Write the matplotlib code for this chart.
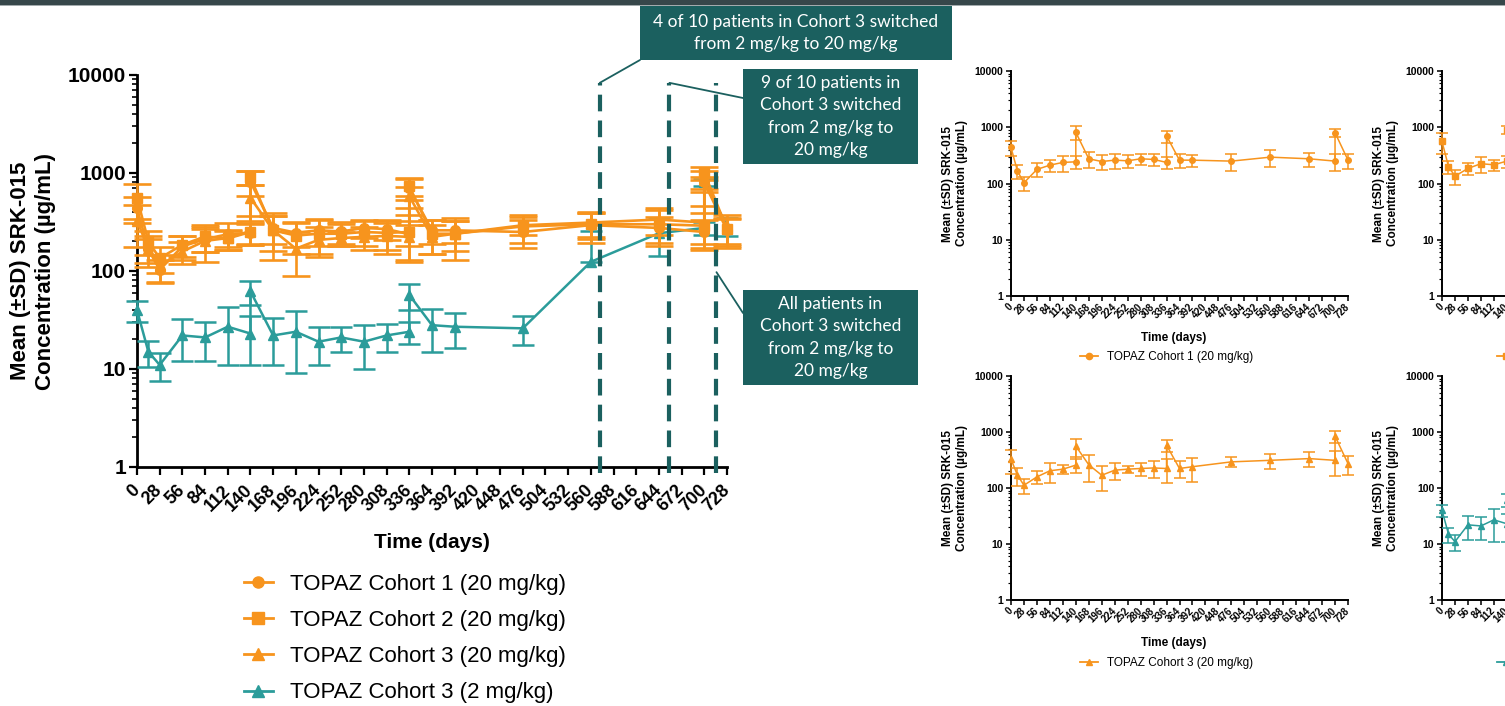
import matplotlib
matplotlib.use('Agg')
import matplotlib.pyplot as plt
import matplotlib.transforms as mtransforms
import numpy as np
from matplotlib.lines import Line2D
from matplotlib.patches import Rectangle, ConnectionPatch
from matplotlib.ticker import LogLocator, NullFormatter

plt.rcParams['font.family'] = ['Liberation Sans', 'DejaVu Sans']

# Dữ liệu (ngày, trung bình, SD)
days = [0, 14, 28, 56, 84, 112, 140, 140, 168, 196, 224, 252, 280, 308,
        336, 336, 364, 392, 476, 560, 644, 700, 700, 728]

c1_mean = [437, 166, 103, 178, 212, 237, 243, 812, 275, 246, 260, 253, 275, 268,
           237, 700, 260, 260, 250, 294, 275, 250, 800, 260]
c1_sd = [130, 45, 28, 50, 55, 75, 60, 230, 85, 70, 80, 65, 60, 60,
         55, 170, 70, 65, 80, 100, 80, 80, 120, 80]

c2_mean = [560, 200, 135, 185, 225, 215, 250, 900, 260, 230, 240, 240, 250, 245,
           250, 730, 240, 240, 285, 300, 300, 290, 1000, 270]
c2_sd = [220, 55, 40, 45, 70, 50, 60, 150, 100, 80, 90, 60, 70, 80,
         120, 150, 90, 80, 90, 90, 120, 100, 150, 80]

c3_mean = [327, 169, 112, 158, 203, 217, 256, 560, 260, 169, 208, 217, 223, 228,
           223, 580, 223, 240, 293, 312, 335, 312, 840, 273]
c3_sd = [150, 60, 35, 40, 80, 40, 70, 200, 130, 80, 70, 35, 60, 80,
         100, 140, 75, 110, 60, 90, 100, 150, 200, 100]

c3_low_mean = [40, 15, 11, 22, 21, 27, 23, 62, 22, 24, 19, 21, 19, 22,
               24, 57, 28, 27, 26, 124, 243, 275, 800, 290]
c3_low_sd = [10, 4.5, 3.5, 10, 9, 16, 12, 17, 11, 15, 8, 6, 9, 7,
             6, 17, 13, 10.6, 8.5, 130, 100, 40, 60, 60]

labels = ['TOPAZ Cohort 1 (20 mg/kg)', 'TOPAZ Cohort 2 (20 mg/kg)',
          'TOPAZ Cohort 3 (20 mg/kg)', 'TOPAZ Cohort 3 (2 mg/kg)']

switch_days = [571, 657, 715]
notes = ['4 of 10 patients in Cohort 3 switched\nfrom 2 mg/kg to 20 mg/kg',
         '9 of 10 patients in\nCohort 3 switched\nfrom 2 mg/kg to\n20 mg/kg',
         'All patients in\nCohort 3 switched\nfrom 2 mg/kg to\n20 mg/kg']

x_ticks = list(range(0, 729, 28))
y_ticks = [1, 10, 100, 1000, 10000]

ORANGE = '#F7941D'
TEAL = '#2B9C9A'
DARK = '#1B605F'

W, H = 1505, 706


def px_rect(l, t, r, b):
    return [l / W, 1 - b / H, (r - l) / W, (b - t) / H]


def fx(x):
    return x / W


def fy(y):
    return 1 - y / H


def style_axes(ax, spine_w, tlen, tick_fs, xtick_fs, xpad):
    ax.set_yscale('log')
    ax.set_ylim(1, 10000)
    ax.set_xlim(0, 728)
    ax.patch.set_alpha(0)
    for s in ['top', 'right']:
        ax.spines[s].set_visible(False)
    for s in ['left', 'bottom']:
        ax.spines[s].set_linewidth(spine_w)
    ax.set_xticks(x_ticks)
    ax.set_xticklabels([str(t) for t in x_ticks], rotation=45, ha='right', va='center',
                       rotation_mode='anchor', fontweight='bold', fontsize=xtick_fs)
    ax.set_yticks(y_ticks)
    ax.set_yticklabels([str(t) for t in y_ticks], fontweight='bold', fontsize=tick_fs)
    ax.yaxis.set_minor_locator(LogLocator(base=10, subs=range(2, 10)))
    ax.yaxis.set_minor_formatter(NullFormatter())
    ax.tick_params(which='major', length=tlen, width=spine_w * 0.8, pad=2)
    ax.tick_params(which='minor', length=tlen * 0.55, width=spine_w * 0.6)
    ax.tick_params(axis='x', pad=xpad)


def draw_series(ax, mean, sd, color, marker, ms, lw, cap, z):
    mean = np.array(mean, float)
    sd = np.array(sd, float)
    lower = np.where(sd < mean, sd, 0)
    ax.errorbar(days, mean, yerr=[lower, sd], color=color, marker=marker, ms=ms,
                lw=lw, elinewidth=lw, capsize=cap, capthick=lw, zorder=z, clip_on=False)


series = [
    (c1_mean, c1_sd, ORANGE, 'o'),
    (c2_mean, c2_sd, ORANGE, 's'),
    (c3_mean, c3_sd, ORANGE, '^'),
    (c3_low_mean, c3_low_sd, TEAL, '^'),
]

fig = plt.figure(figsize=(W / 100, H / 100), dpi=100)
fig.patch.set_facecolor('white')

# thanh tiêu đề phía trên
fig.add_artist(Rectangle((0, fy(5)), 1, 5 / H, transform=fig.transFigure,
                         color='#37474A', lw=0))
fig.add_artist(Rectangle((0, fy(6)), 1, 1 / H, transform=fig.transFigure,
                         color='#A3ABAD', lw=0))

# Biểu đồ chính
ax = fig.add_axes(px_rect(137, 75, 727, 467))
style_axes(ax, 2.0, 6, 15, 13, 9)
draw_series(ax, c3_low_mean, c3_low_sd, TEAL, '^', 7, 1.8, 8, 3)
for i in range(3):
    m, s, c, mk = series[i]
    draw_series(ax, m, s, c, mk, 7, 1.9, 10, 4 + i)

blend = mtransforms.blended_transform_factory(ax.transData, ax.transAxes)
for d in switch_days:
    ax.plot([d, d], [-0.015, 0.98], transform=blend, color=DARK, lw=3,
            linestyle=(0, (4, 2.2)), clip_on=False, zorder=8)

fig.text(fx(33), fy(271), 'Mean (±SD) SRK-015\nConcentration (µg/mL)', rotation=90,
         ha='center', va='center', multialignment='center', fontsize=16, fontweight='bold')
fig.text(fx(432), fy(543), 'Time (days)', ha='center', va='center',
         fontsize=15, fontweight='bold')

handles = [Line2D([], [], color=c, marker=mk, ms=8, lw=2) for _, _, c, mk in series]
fig.legend(handles, labels, loc='upper left', bbox_to_anchor=(fx(244), fy(574)),
           frameon=False, fontsize=16, handlelength=1.3, handletextpad=0.75,
           labelspacing=0.68, borderpad=0, borderaxespad=0)

# hộp chú thích
boxes = [(640, 6, 952, 60), (743, 69, 918, 164), (743, 290, 918, 385)]
for (l, t, r, b), note in zip(boxes, notes):
    fig.add_artist(Rectangle((fx(l), fy(b)), (r - l) / W, (b - t) / H,
                             transform=fig.transFigure, color=DARK, lw=0))
    fig.text(fx((l + r) / 2), fy((t + b) / 2), note, ha='center', va='center',
             color='white', fontsize=12.5, family=['Lato', 'DejaVu Sans'], linespacing=1.5)

leaders = [(switch_days[0], 0.98, 640, 60),
           (switch_days[1], 0.98, 743, 98),
           (switch_days[2], 0.497, 743, 313)]
for d, yf, bx, by in leaders:
    fig.add_artist(ConnectionPatch(xyA=(d, yf), coordsA=blend,
                                   xyB=(fx(bx), fy(by)), coordsB=fig.transFigure,
                                   color=DARK, lw=1.3))

# Các biểu đồ nhỏ bên phải
small = [
    ((1011, 71, 1348, 296), 0, 338, (1080, 357)),
    ((1442, 71, 1779, 296), 1, 338, (1497, 357)),
    ((1011, 376, 1348, 600), 2, 643, (1080, 663)),
    ((1442, 376, 1779, 600), 3, 643, (1497, 663)),
]
for (l, t, r, b), k, ty, (lx, ly) in small:
    sax = fig.add_axes(px_rect(l, t, r, b))
    style_axes(sax, 1.4, 3.5, 7.5, 7, 3)
    m, s, c, mk = series[k]
    draw_series(sax, m, s, c, mk, 4, 1.1, 4, 3)
    fig.text(fx(l - 56), fy((t + b) / 2), 'Mean (±SD) SRK-015\nConcentration (µg/mL)',
             rotation=90, ha='center', va='center', multialignment='center',
             fontsize=8.5, fontweight='bold')
    fig.text(fx((l + r) / 2 - 6), fy(ty), 'Time (days)', ha='center', va='center',
             fontsize=8.5, fontweight='bold')
    h = Line2D([], [], color=c, marker=mk, ms=4.5, lw=1.3)
    fig.legend([h], [labels[k]], loc='center left', bbox_to_anchor=(fx(lx), fy(ly)),
               frameon=False, fontsize=8.5, handlelength=1.5, handletextpad=0.8,
               borderpad=0, borderaxespad=0)

fig.savefig('out.png', dpi=100)
